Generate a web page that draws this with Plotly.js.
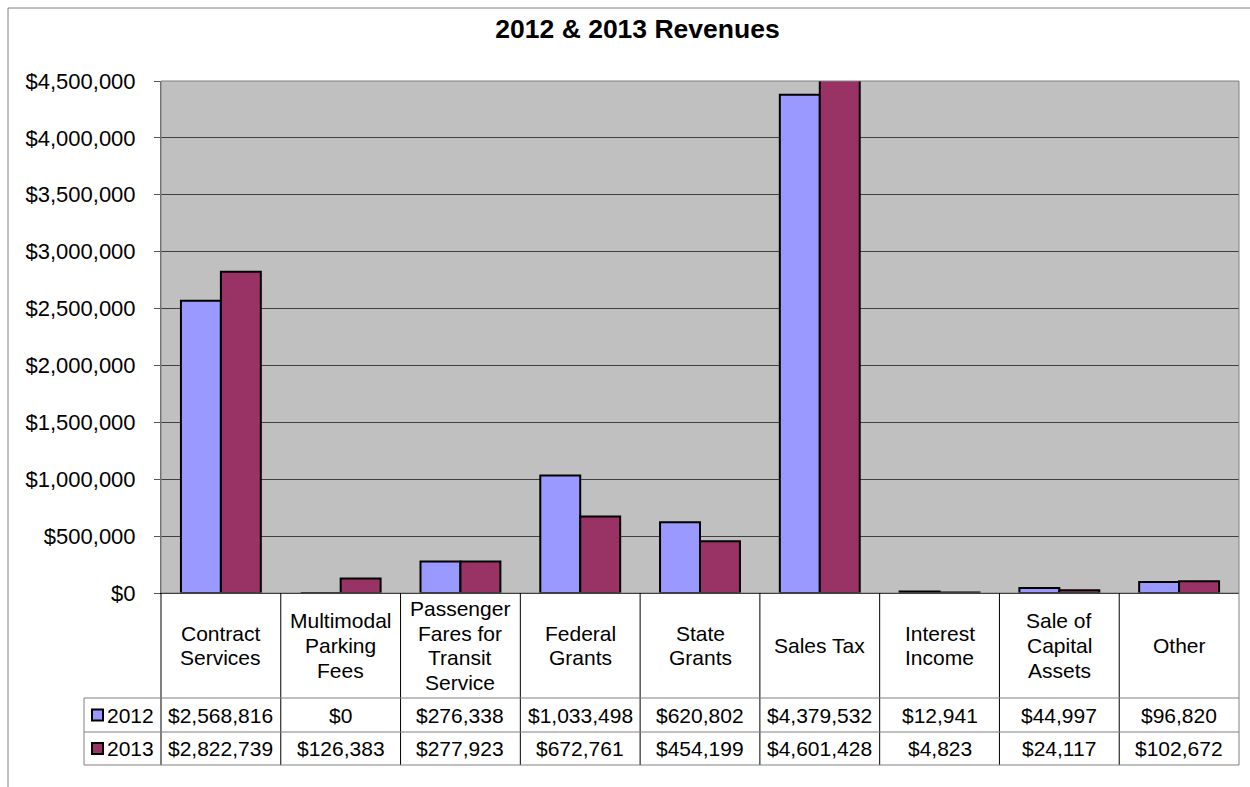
<!DOCTYPE html>
<html>
<head>
<meta charset="utf-8">
<script src="https://cdn.plot.ly/plotly-3.0.1.min.js"></script>
<style>html,body{margin:0;padding:0;background:#fff;}#chart{width:1250px;height:787px;}</style>
</head>
<body>
<div id="chart"></div>
<script>
// ---- data ----
var categories = ["Contract<br>Services", "Multimodal<br>Parking<br>Fees", "Passenger<br>Fares for<br>Transit<br>Service", "Federal<br>Grants", "State<br>Grants", "Sales Tax", "Interest<br>Income", "Sale of<br>Capital<br>Assets", "Other"];
var seriesNames = ["2012", "2013"];
var values2012 = [2568816, 0, 276338, 1033498, 620802, 4379532, 12941, 44997, 96820];
var values2013 = [2822739, 126383, 277923, 672761, 454199, 4601428, 4823, 24117, 102672];
var chartTitle = "2012 & 2013 Revenues";

// ---- layout helpers ----
var W = 1250, H = 787;
var L = 161, R = 11, T = 81, B = 194;
var pw = W - L - R, ph = H - T - B;
function px2x(px) { return (px - L) / pw; }
function py2y(py) { return (H - B - py) / ph; }
var FONT = '"Liberation Sans", Arial, sans-serif';
var TFS = 21;
var colors = ["#9999FF", "#993366"];
var N = categories.length;
function fmt(v) { return "$" + v.toLocaleString("en-US"); }

var traces = [values2012, values2013].map(function (vals, s) {
  return {
    type: "bar",
    name: seriesNames[s],
    x: categories.map(function (c, i) { return i; }),
    y: vals,
    marker: { color: colors[s], line: { color: "#000", width: 2 } },
    hoverinfo: "y+name"
  };
});

var headerTop = H - B, headerBot = 698, row1Bot = 732, row2Bot = 765, legLeft = 84;
var lineStep = 24.7;
var shapes = [], annotations = [];

// outer chart border
shapes.push({ type: "line", xref: "paper", yref: "paper", x0: px2x(8), x1: px2x(8), y0: py2y(8), y1: py2y(H + 2), line: { color: "#808080", width: 1 } });
shapes.push({ type: "line", xref: "paper", yref: "paper", x0: px2x(8), x1: px2x(W + 2), y0: py2y(8), y1: py2y(8), line: { color: "#808080", width: 1 } });
// plot area border
shapes.push({ type: "rect", xref: "paper", yref: "paper", x0: 0, x1: 1, y0: 0, y1: 1, line: { color: "#808080", width: 1 }, layer: "above" });

// table vertical lines
for (var k = 0; k <= N; k++) {
  shapes.push({ type: "line", xref: "paper", yref: "paper", x0: k / N, x1: k / N, y0: 0, y1: py2y(row2Bot), line: { color: k === N ? "#808080" : "#000", width: 1 } });
}
// table horizontal lines
[headerBot, row1Bot, row2Bot].forEach(function (py) {
  shapes.push({ type: "line", xref: "paper", yref: "paper", x0: px2x(legLeft), x1: 1, y0: py2y(py), y1: py2y(py), line: { color: "#808080", width: 1 } });
});
shapes.push({ type: "line", xref: "paper", yref: "paper", x0: px2x(legLeft), x1: px2x(legLeft), y0: py2y(headerBot), y1: py2y(row2Bot), line: { color: "#808080", width: 1 } });

// header text (one annotation per line for tighter spacing)
categories.forEach(function (c, i) {
  var lines = c.split("<br>");
  var mid = (headerTop + headerBot) / 2;
  lines.forEach(function (ln, j) {
    var cy = mid + (j - (lines.length - 1) / 2) * lineStep;
    annotations.push({ xref: "paper", yref: "paper", x: (i + 0.5) / N, y: py2y(cy), text: ln, showarrow: false, xanchor: "center", yanchor: "middle", align: "center", font: { family: FONT, size: TFS, color: "#000" } });
  });
});
// rows
var rows = [[headerBot, row1Bot], [row1Bot, row2Bot]];
[values2012, values2013].forEach(function (vals, s) {
  var cy = (rows[s][0] + rows[s][1]) / 2;
  vals.forEach(function (v, i) {
    annotations.push({ xref: "paper", yref: "paper", x: (i + 0.5) / N, y: py2y(cy), text: fmt(v), showarrow: false, xanchor: "center", yanchor: "middle", font: { family: FONT, size: TFS, color: "#000" } });
  });
  shapes.push({ type: "rect", xref: "paper", yref: "paper", x0: px2x(92), x1: px2x(103), y0: py2y(cy - 5.5), y1: py2y(cy + 5.5), fillcolor: colors[s], line: { color: "#000", width: 2 } });
  annotations.push({ xref: "paper", yref: "paper", x: px2x(105), y: py2y(cy), text: seriesNames[s], showarrow: false, xanchor: "left", yanchor: "middle", font: { family: FONT, size: TFS, color: "#000" } });
});

var layout = {
  width: W, height: H,
  margin: { l: L, r: R, t: T, b: B, pad: 0 },
  paper_bgcolor: "#fff",
  plot_bgcolor: "#C0C0C0",
  title: { text: "<b>" + chartTitle + "</b>", x: 0.51, xanchor: "center", y: 1 - 29 / H, yanchor: "middle", font: { family: FONT, size: 26.5, color: "#000" } },
  barmode: "group",
  bargap: 0.333,
  bargroupgap: 0,
  showlegend: false,
  xaxis: { range: [-0.5, N - 0.5], showticklabels: false, ticks: "", showgrid: false, zeroline: false, showline: true, linecolor: "#000", linewidth: 1, fixedrange: true },
  yaxis: { range: [0, 4500000], dtick: 500000, tick0: 0, tickprefix: "$", tickformat: ",d", ticks: "outside", ticklen: 6, tickcolor: "#555", ticklabelstandoff: 14, showgrid: true, gridcolor: "#404040", gridwidth: 1, zeroline: true, zerolinecolor: "#000", showline: true, linecolor: "#606060", linewidth: 1, tickfont: { family: FONT, size: 22, color: "#000" }, fixedrange: true },
  shapes: shapes,
  annotations: annotations
};

Plotly.newPlot("chart", traces, layout, { displayModeBar: false, staticPlot: true });
</script>
</body>
</html>
